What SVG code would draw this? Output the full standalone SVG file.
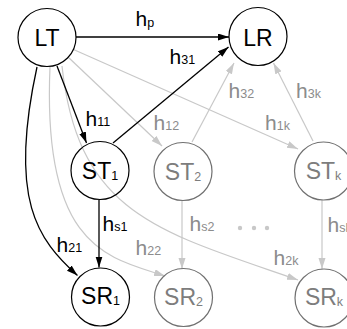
<svg xmlns="http://www.w3.org/2000/svg" width="347" height="329" viewBox="0 0 347 329">
  <style>
    text { font-family: "Liberation Sans", Arial, sans-serif; }
    .node { fill: none; stroke-width: 1.2; }
    .on { stroke: #000; }
    .off { stroke: #707070; }
    .nlab { font-size: 23px; text-anchor: middle; }
    .nlab-on { fill: #000; }
    .nlab-off { fill: #7d7d7d; }
    .sub { font-size: 12.5px; }
    .elab { font-size: 21px; }
    .elab-on { fill: #000; }
    .elab-off { fill: #8c8c8c; }
    .edge { fill: none; }
    .e-on { stroke: #000; stroke-width: 1.3; marker-end: url(#arrowBlack); }
    .e-off { stroke: #c8c8c8; stroke-width: 1.2; marker-end: url(#arrowGray); }
  </style>
  <defs>
    <marker id="arrowBlack" markerUnits="userSpaceOnUse" markerWidth="11" markerHeight="8" refX="11" refY="3.5" orient="auto">
      <path d="M0,0 L11,3.5 L0,7 z" fill="#000"/>
    </marker>
    <marker id="arrowGray" markerUnits="userSpaceOnUse" markerWidth="11" markerHeight="8" refX="11" refY="3.5" orient="auto">
      <path d="M0,0 L11,3.5 L0,7 z" fill="#c8c8c8"/>
    </marker>
  </defs>
  <rect width="347" height="329" fill="#fff"/>

  <!-- connectors -->
  <g id="connectors">
    <!-- inactive (gray) links -->
    <path class="edge e-off" d="M68,57 L162,146"/>
    <path class="edge e-off" d="M73.5,49.5 L298,149"/>
    <path class="edge e-off" d="M192,142 L234,63"/>
    <path class="edge e-off" d="M313,141 L273.5,63"/>
    <path class="edge e-off" d="M50,67 C42,250 110,258 165,276"/>
    <path class="edge e-off" d="M62,66 C78,215 160,232 298,280"/>
    <path class="edge e-off" d="M182,200 L182,269"/>
    <path class="edge e-off" d="M322,200 L322,269"/>
    <!-- active (black) links -->
    <path class="edge e-on" d="M76,37 L229,37"/>
    <path class="edge e-on" d="M113,143 L228.5,47"/>
    <path class="edge e-on" d="M57,66 L86.5,143"/>
    <path class="edge e-on" d="M37,67 C8,200 38,240 77.5,275.5"/>
    <path class="edge e-on" d="M99,200 L99,267.5"/>
  </g>

  <!-- ellipsis between the pair columns -->
  <g id="ellipsis" fill="#c8c8c8">
    <circle cx="240" cy="228" r="2.2"/>
    <circle cx="254" cy="228" r="2.2"/>
    <circle cx="267" cy="228" r="2.2"/>
  </g>

  <!-- link labels -->
  <g id="edge-labels">
    <text class="elab elab-on" x="135.5" y="26">h<tspan class="sub" dy="1">p</tspan></text>
    <text class="elab elab-on" x="169.5" y="64">h<tspan class="sub">31</tspan></text>
    <text class="elab elab-off" x="228.5" y="98">h<tspan class="sub">32</tspan></text>
    <text class="elab elab-off" x="296" y="98">h<tspan class="sub">3k</tspan></text>
    <text class="elab elab-on" x="85.5" y="126">h<tspan class="sub">11</tspan></text>
    <text class="elab elab-off" x="153.5" y="130">h<tspan class="sub">12</tspan></text>
    <text class="elab elab-off" x="265" y="130">h<tspan class="sub">1k</tspan></text>
    <text class="elab elab-on" x="102.5" y="231">h<tspan class="sub">s1</tspan></text>
    <text class="elab elab-off" x="189.5" y="231">h<tspan class="sub">s2</tspan></text>
    <text class="elab elab-off" x="327.5" y="232">h<tspan class="sub">sk</tspan></text>
    <text class="elab elab-on" x="56.5" y="252">h<tspan class="sub">21</tspan></text>
    <text class="elab elab-off" x="135.5" y="255">h<tspan class="sub">22</tspan></text>
    <text class="elab elab-off" x="273.5" y="265">h<tspan class="sub">2k</tspan></text>
  </g>

  <!-- nodes -->
  <g id="LT">
    <circle class="node on" cx="47" cy="37.5" r="29"/>
    <text class="nlab nlab-on" x="47" y="46">LT</text>
  </g>
  <g id="LR">
    <circle class="node on" cx="258" cy="36.5" r="29"/>
    <text class="nlab nlab-on" x="258" y="45.5">LR</text>
  </g>
  <g id="ST1">
    <circle class="node on" cx="100" cy="170.5" r="29"/>
    <text class="nlab nlab-on" x="100" y="178.5">ST<tspan class="sub" dy="1">1</tspan></text>
  </g>
  <g id="ST2">
    <circle class="node off" cx="183" cy="171.5" r="29"/>
    <text class="nlab nlab-off" x="183" y="179.5">ST<tspan class="sub" dy="1">2</tspan></text>
  </g>
  <g id="STk">
    <circle class="node off" cx="323.5" cy="171" r="29"/>
    <text class="nlab nlab-off" x="323.5" y="179">ST<tspan class="sub" dy="1">k</tspan></text>
  </g>
  <g id="SR1">
    <circle class="node on" cx="100.5" cy="297" r="29"/>
    <text class="nlab nlab-on" x="100.5" y="304">SR<tspan class="sub" dy="1">1</tspan></text>
  </g>
  <g id="SR2">
    <circle class="node off" cx="183.5" cy="297.5" r="29"/>
    <text class="nlab nlab-off" x="183.5" y="304.5">SR<tspan class="sub" dy="1">2</tspan></text>
  </g>
  <g id="SRk">
    <circle class="node off" cx="324" cy="298" r="29"/>
    <text class="nlab nlab-off" x="324" y="305">SR<tspan class="sub" dy="1">k</tspan></text>
  </g>
</svg>
